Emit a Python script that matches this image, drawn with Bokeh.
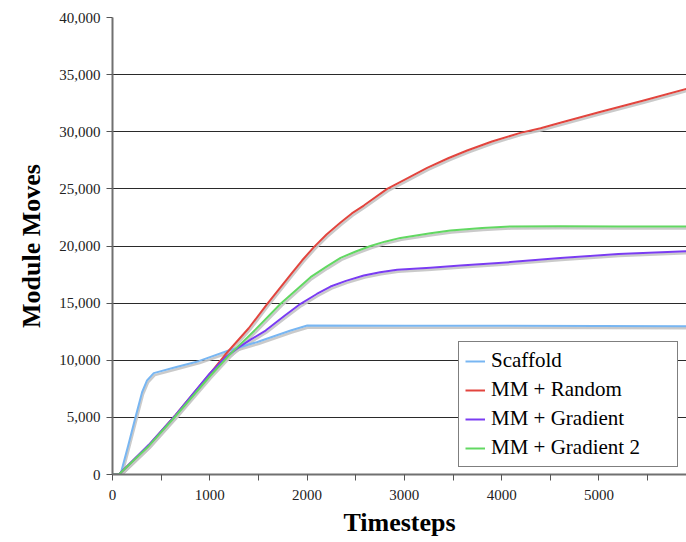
from bokeh.plotting import figure
from bokeh.models import Range1d, FixedTicker, NumeralTickFormatter, Legend, LegendItem
from bokeh.embed import file_html
from bokeh.resources import INLINE

# ---- data ----
scaffold_x = [0, 82, 160, 236, 304, 355, 424, 647, 886, 1194, 1489, 1831, 2002, 3000, 4000, 5000, 5900]
scaffold_y = [0, 0, 2500, 5000, 7200, 8230, 8870, 9390, 9920, 10850, 11600, 12600, 13040, 13030, 13010, 13000, 12980]

random_x = [0, 65, 373, 647, 1000, 1160, 1400, 1591, 1831, 1950, 2070, 2200, 2344, 2460, 2583, 2823, 3000, 3234, 3450, 3645, 3900, 4192, 4400, 4603, 5000, 5450, 5900]
random_y = [0, 0, 2550, 5200, 8800, 10500, 12800, 14940, 17500, 18750, 19900, 21000, 22050, 22850, 23540, 25000, 25780, 26840, 27680, 28360, 29150, 29900, 30300, 30780, 31700, 32720, 33760]

gradient_x = [0, 65, 373, 647, 1000, 1160, 1300, 1420, 1574, 1762, 1933, 2100, 2241, 2400, 2583, 2750, 2926, 3268, 3576, 4089, 4603, 5200, 5900]
gradient_y = [0, 0, 2600, 5200, 8850, 10250, 11150, 11800, 12600, 13850, 14940, 15800, 16450, 16950, 17420, 17700, 17920, 18090, 18290, 18590, 18940, 19300, 19550]

gradient2_x = [0, 65, 373, 647, 1000, 1200, 1471, 1728, 2036, 2200, 2344, 2500, 2652, 2800, 2960, 3268, 3473, 3800, 4089, 4603, 5200, 5900]
gradient2_y = [0, 0, 2500, 5100, 8600, 10450, 12700, 14940, 17270, 18200, 18960, 19520, 20000, 20380, 20710, 21120, 21360, 21580, 21710, 21720, 21710, 21700]

series_names = ["Scaffold", "MM + Random", "MM + Gradient", "MM + Gradient 2"]
series_colors = ["#78B6F2", "#E2453E", "#7A3CF2", "#62D862"]

x_tick_values = [0, 1000, 2000, 3000, 4000, 5000]
x_minor_values = [500, 1500, 2500, 3500, 4500, 5500]
y_tick_values = [0, 5000, 10000, 15000, 20000, 25000, 30000, 35000, 40000]

X_MAX = 5900
Y_MAX = 40000

serif_bold = "Liberation Serif"
serif_regular = "'Liberation Serif', 'Liberation Sans', sans-serif"

p = figure(width=686, height=542, output_backend="svg", toolbar_location=None,
           x_range=Range1d(0, X_MAX), y_range=Range1d(0, Y_MAX),
           min_border_left=112, min_border_right=0, min_border_top=17, min_border_bottom=68)
p.outline_line_color = None
p.background_fill_color = "white"
p.border_fill_color = "white"

# grid
p.xgrid.visible = False
p.ygrid.grid_line_color = "#2a2a2a"
p.ygrid.grid_line_width = 1
p.ygrid.ticker = FixedTicker(ticks=y_tick_values)

# axes
p.xaxis.ticker = FixedTicker(ticks=x_tick_values, minor_ticks=x_minor_values)
p.yaxis.ticker = FixedTicker(ticks=y_tick_values)
p.yaxis.formatter = NumeralTickFormatter(format="0,0")
for ax in (p.xaxis[0], p.yaxis[0]):
    ax.axis_line_color = "#707070"
    ax.axis_line_width = 2
    ax.major_tick_line_color = "#555555"
    ax.major_tick_out = 6
    ax.major_tick_in = 0
    ax.major_label_text_font = serif_regular
    ax.major_label_text_font_size = "15px"
    ax.major_label_text_color = "#222222"
    ax.axis_label_text_font = serif_bold
    ax.axis_label_text_font_style = "bold"
    ax.axis_label_text_font_size = "26px"
    ax.axis_label_text_color = "black"
p.xaxis.minor_tick_line_color = "#555555"
p.xaxis.minor_tick_out = 6
p.xaxis.minor_tick_in = 0
p.yaxis.minor_tick_line_color = None
p.xaxis.axis_label = "Timesteps"
p.yaxis.axis_label = "Module Moves"
p.xaxis.major_label_standoff = 9
p.xaxis.axis_label_standoff = 5
p.yaxis.major_label_standoff = 6
p.yaxis.axis_label_standoff = 10

# shadow offsets (1px right, 2px down) converted to data units
dx = X_MAX / 574.0
dy = Y_MAX / 457.0 * 2

data = [(scaffold_x, scaffold_y), (random_x, random_y), (gradient_x, gradient_y), (gradient2_x, gradient2_y)]

for xs, ys in data:
    p.line([x + dx for x in xs], [y - dy for y in ys], line_color="#c4c4c4", line_width=2.5,
           line_alpha=0.9, line_join="round")

items = []
for (xs, ys), name, color in zip(data, series_names, series_colors):
    r = p.line(xs, ys, line_color=color, line_width=2, line_join="round")
    items.append(LegendItem(label=name, renderers=[r]))

legend = Legend(items=items, location=(346, 7))
legend.label_text_font = serif_regular
legend.label_text_font_size = "21px"
legend.label_text_color = "black"
legend.border_line_color = "black"
legend.border_line_width = 1
legend.background_fill_color = "white"
legend.background_fill_alpha = 1
legend.padding = 6
legend.margin = 0
legend.spacing = 4
legend.label_height = 22
legend.glyph_height = 22
legend.glyph_width = 20
legend.label_standoff = 6
legend.label_width = 180
p.add_layout(legend)

open("out.html", "w").write(file_html(p, INLINE))
